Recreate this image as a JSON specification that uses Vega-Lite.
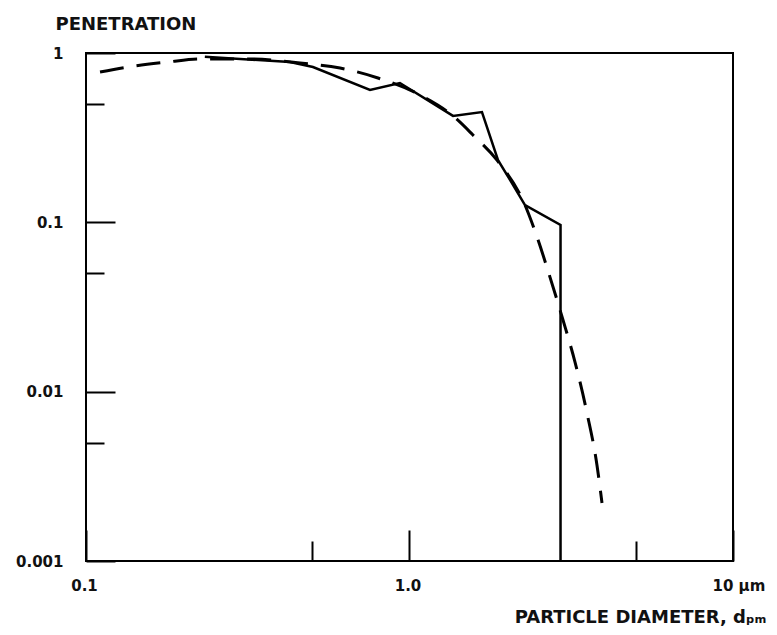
{
  "$schema": "https://vega.github.io/schema/vega-lite/v6.json",
  "width": 647,
  "height": 508,
  "autosize": {"type": "none"},
  "padding": {"left": 86, "top": 53, "right": 44, "bottom": 74},
  "background": "white",
  "config": {
    "view": {"stroke": "black", "strokeWidth": 2},
    "font": "DejaVu Sans"
  },
  "data": {
    "values": [
      {"series": "measured", "d": 0.233, "p": 0.95},
      {"series": "measured", "d": 0.427, "p": 0.885},
      {"series": "measured", "d": 0.503, "p": 0.827},
      {"series": "measured", "d": 0.755, "p": 0.605},
      {"series": "measured", "d": 0.934, "p": 0.665},
      {"series": "measured", "d": 1.363, "p": 0.425},
      {"series": "measured", "d": 1.675, "p": 0.448},
      {"series": "measured", "d": 1.878, "p": 0.233},
      {"series": "measured", "d": 2.045, "p": 0.178},
      {"series": "measured", "d": 2.275, "p": 0.1265},
      {"series": "measured", "d": 2.93, "p": 0.0964},
      {"series": "measured", "d": 2.93, "p": 0.001},
      {"series": "fitted", "d": 0.1105, "p": 0.772},
      {"series": "fitted", "d": 0.1348, "p": 0.827},
      {"series": "fitted", "d": 0.1793, "p": 0.885},
      {"series": "fitted", "d": 0.2251, "p": 0.922},
      {"series": "fitted", "d": 0.3213, "p": 0.922},
      {"series": "fitted", "d": 0.4587, "p": 0.873},
      {"series": "fitted", "d": 0.61, "p": 0.815},
      {"series": "fitted", "d": 0.799, "p": 0.712},
      {"series": "fitted", "d": 1.078, "p": 0.565},
      {"series": "fitted", "d": 1.363, "p": 0.425},
      {"series": "fitted", "d": 1.571, "p": 0.328},
      {"series": "fitted", "d": 1.864, "p": 0.233},
      {"series": "fitted", "d": 2.275, "p": 0.1265},
      {"series": "fitted", "d": 2.479, "p": 0.0819},
      {"series": "fitted", "d": 2.718, "p": 0.0475},
      {"series": "fitted", "d": 2.982, "p": 0.0265},
      {"series": "fitted", "d": 3.248, "p": 0.01496},
      {"series": "fitted", "d": 3.538, "p": 0.00747},
      {"series": "fitted", "d": 3.798, "p": 0.00368},
      {"series": "fitted", "d": 3.936, "p": 0.0022}
    ]
  },
  "encoding": {
    "x": {
      "field": "d",
      "type": "quantitative",
      "scale": {"type": "log", "domain": [0.1, 10]},
      "axis": {
        "values": [0.1, 0.5, 1, 5, 10],
        "domain": false,
        "grid": false,
        "tickColor": "black",
        "tickWidth": 2,
        "tickSize": {"condition": {"test": "datum.value == 0.5 || datum.value == 5", "value": -20}, "value": -31},
        "labelPadding": 48,
        "labelExpr": "datum.value == 0.1 ? '0.1' : datum.value == 1 ? '1.0' : datum.value == 10 ? '10 µm' : ''",
        "labelAlign": {"condition": {"test": "datum.value == 10", "value": "left"}, "value": "center"},
        "labelOffset": {"condition": {"test": "datum.value == 10", "value": -21}, "value": -2},
        "labelFlush": false,
        "labelOverlap": false,
        "labelFontSize": 15,
        "labelFontWeight": "bold",
        "labelColor": "#111",
        "title": "PARTICLE DIAMETER, dₚₘ",
        "titleFontSize": 18,
        "titleFontWeight": "bold",
        "titleColor": "#111",
        "titleAlign": "right",
        "titleBaseline": "alphabetic",
        "titleX": 680,
        "titleY": 61
      }
    },
    "y": {
      "field": "p",
      "type": "quantitative",
      "scale": {"type": "log", "domain": [0.001, 1]},
      "axis": {
        "values": [1, 0.5, 0.1, 0.05, 0.01, 0.005, 0.001],
        "domain": false,
        "grid": false,
        "tickColor": "black",
        "tickWidth": 2,
        "tickSize": {"condition": {"test": "datum.value == 0.5 || datum.value == 0.05 || datum.value == 0.005", "value": -18}, "value": -29},
        "labelPadding": 52,
        "labelExpr": "datum.value == 1 ? '1' : datum.value == 0.1 ? '0.1' : datum.value == 0.01 ? '0.01' : datum.value == 0.001 ? '0.001' : ''",
        "labelFlush": false,
        "labelOverlap": false,
        "labelFontSize": 15,
        "labelFontWeight": "bold",
        "labelColor": "#111",
        "title": "PENETRATION",
        "titleAngle": 0,
        "titleFontSize": 18,
        "titleFontWeight": "bold",
        "titleColor": "#111",
        "titleAlign": "left",
        "titleBaseline": "alphabetic",
        "titleX": -31,
        "titleY": -24
      }
    }
  },
  "layer": [
    {
      "transform": [{"filter": "datum.series == 'fitted'"}],
      "mark": {"type": "line", "color": "black", "strokeWidth": 3, "strokeDash": [24, 13], "interpolate": "monotone", "clip": true}
    },
    {
      "transform": [{"filter": "datum.series == 'measured'"}],
      "mark": {"type": "line", "color": "black", "strokeWidth": 2.5, "clip": true}
    }
  ]
}
